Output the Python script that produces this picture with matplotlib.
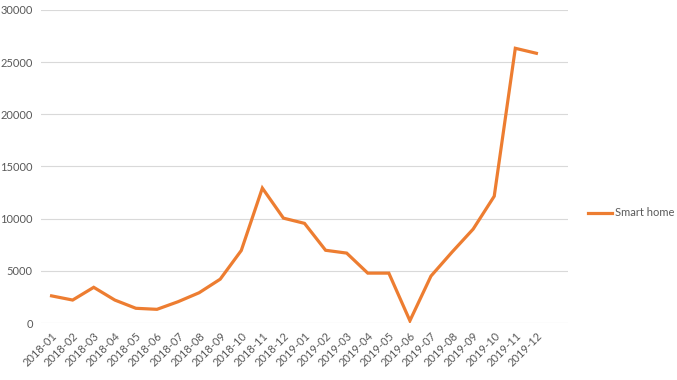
import matplotlib
matplotlib.use("Agg")
import matplotlib.pyplot as plt

months = [
    "2018-01", "2018-02", "2018-03", "2018-04", "2018-05", "2018-06",
    "2018-07", "2018-08", "2018-09", "2018-10", "2018-11", "2018-12",
    "2019-01", "2019-02", "2019-03", "2019-04", "2019-05", "2019-06",
    "2019-07", "2019-08", "2019-09", "2019-10", "2019-11", "2019-12",
]
smart_home = [
    2600, 2200, 3420, 2200, 1410, 1310,
    2040, 2900, 4200, 6950, 12930, 10050,
    9550, 6970, 6700, 4780, 4780, 220,
    4500, 6800, 9000, 12150, 26330, 25850,
]
y_ticks = [0, 5000, 10000, 15000, 20000, 25000, 30000]

TEXT = "#595959"
GRID = "#D9D9D9"
ORANGE = "#ED7D31"

plt.rcParams["font.family"] = ["Lato", "DejaVu Sans"]

fig = plt.figure(figsize=(6.77, 3.80), dpi=100)
ax = fig.add_axes([0.0606, 0.15, 0.7784, 0.8237])

x = list(range(len(months)))
ax.plot(x, smart_home, color=ORANGE, linewidth=2.3, solid_joinstyle="miter",
        label="Smart home")

ax.set_xlim(-0.5, len(months) + 0.5)
ax.set_ylim(0, 30000)
ax.set_yticks(y_ticks)
ax.set_yticklabels([str(v) for v in y_ticks])
ax.set_xticks(x)
ax.set_xticklabels(months, rotation=45, ha="right", va="top", rotation_mode="anchor")

ax.grid(axis="y", color=GRID, linewidth=0.8)
ax.set_axisbelow(True)
for side in ["top", "right", "left", "bottom"]:
    ax.spines[side].set_visible(False)
ax.tick_params(axis="both", length=0, colors=TEXT, labelsize=8)
ax.tick_params(axis="y", pad=6)
ax.tick_params(axis="x", pad=5)

ax.legend(loc="center left", bbox_to_anchor=(0.868, 0.4395),
          bbox_transform=fig.transFigure, frameon=False, fontsize=8,
          labelcolor=TEXT, handlelength=2.2, handletextpad=0.3,
          borderaxespad=0, borderpad=0)

fig.savefig("out.png", dpi=100)
